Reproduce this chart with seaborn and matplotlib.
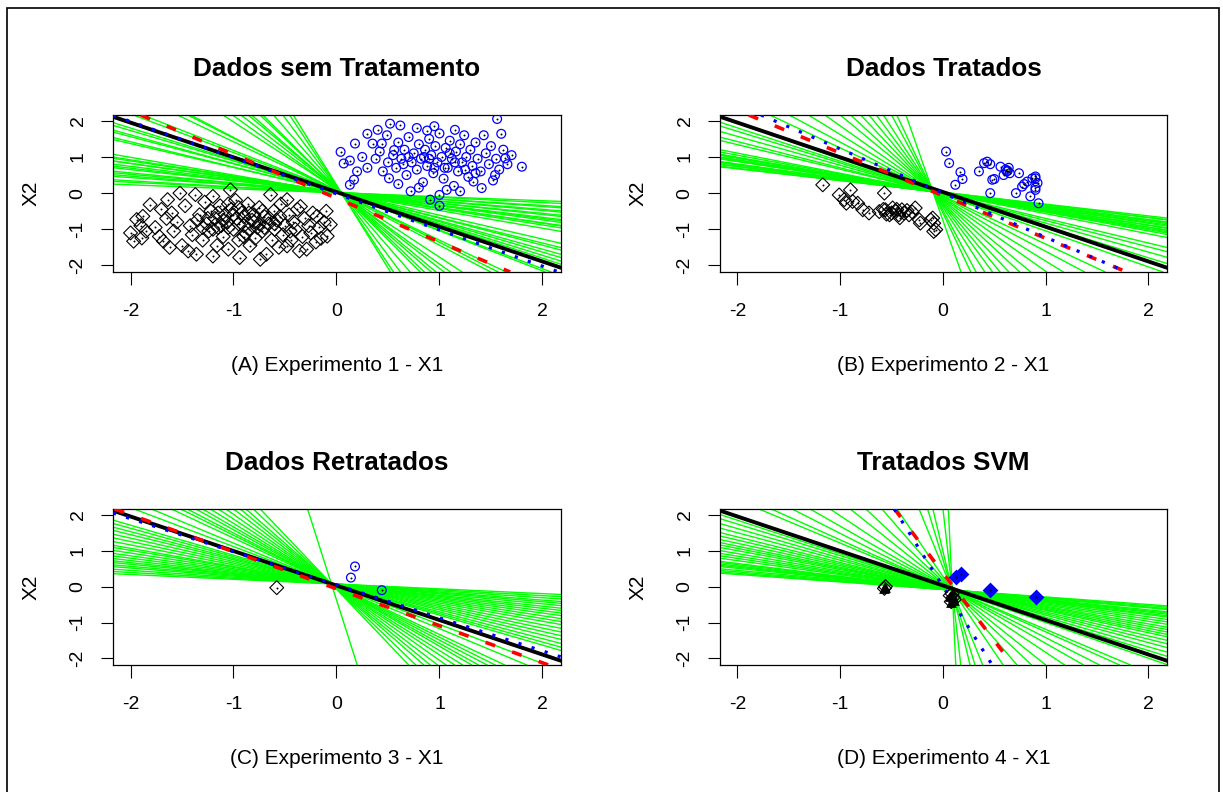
import pandas as pd
import seaborn as sns
import matplotlib.pyplot as plt
from matplotlib.patches import Rectangle

# ---------------------------------------------------------------------------
# Dados (coordenadas X1, X2)
# ---------------------------------------------------------------------------
titulos = ['Dados sem Tratamento', 'Dados Tratados', 'Dados Retratados', 'Tratados SVM']
rotulos_x = ['(A) Experimento 1 - X1', '(B) Experimento 2 - X1',
             '(C) Experimento 3 - X1', '(D) Experimento 4 - X1']
ticks = [-2, -1, 0, 1, 2]

# Experimento 1 - classe preta (losangos)
a_preto_x = [-2.0, -1.97, -1.94, -1.88, -1.89, -1.81, -1.76, -1.72, -1.68, -1.64, -1.6, -1.58, -1.55,
             -1.52, -1.5, -1.47, -1.44, -1.42, -1.4, -1.37, -1.36, -1.33, -1.3, -1.28, -1.26, -1.24,
             -1.22, -1.2, -1.2, -1.18, -1.16, -1.15, -1.13, -1.1, -1.08, -1.06, -1.05, -1.03, -1.02,
             -1.0, -0.98, -0.97, -0.95, -0.94, -0.92, -0.9, -0.88, -0.86, -0.84, -0.82, -0.8, -0.79,
             -0.77, -0.75, -0.74, -0.72, -0.7, -0.68, -0.66, -0.64, -0.63, -0.61, -0.6, -0.58, -0.56,
             -0.54, -0.52, -0.5, -0.48, -0.48, -0.46, -0.44, -0.42, -0.4, -0.38, -0.36, -0.35, -0.33,
             -0.31, -0.29, -0.27, -0.25, -0.23, -0.2, -0.19, -0.17, -0.15, -0.12, -0.09, -0.06, -0.1,
             -1.9, -1.85, -1.7, -1.65, -1.62, -1.35, -1.12, -0.9, -0.85, -1.25, -1.15, -1.05, -0.95,
             -0.85, -0.75, -0.65, -1.0, -1.1, -0.8, -0.7, -0.6, -1.2, -0.9, -1.3, -0.55, -0.95, -1.05,
             -0.72, -0.45]
a_preto_y = [-1.1, -1.33, -0.73, -0.64, -1.24, -0.32, -0.95, -1.2, -1.33, -0.18, -0.55, -1.05, -0.8,
             0.0, -1.45, -0.35, -1.6, -0.9, -1.15, -0.04, -1.69, -0.6, -1.3, -0.25, -0.85, -1.05,
             -0.5, -0.09, -1.74, -0.7, -1.45, -0.95, -0.35, -1.2, -0.6, -0.8, -1.55, 0.09, -0.45,
             -1.0, -0.2, -0.7, -1.3, -1.78, -0.55, -0.9, -1.1, -0.3, -1.45, -0.75, -0.6, -1.25,
             -0.95, -0.4, -1.83, -1.05, -0.65, -1.69, -0.85, -0.04, -1.3, -0.5, -1.0, -0.75, -1.5,
             -0.3, -1.15, -0.9, -1.46, -0.18, -0.6, -1.3, -0.8, -1.0, -0.45, -1.6, -0.37, -1.2,
             -0.7, -1.55, -0.9, -1.1, -0.55, -1.35, -0.64, -0.95, -1.25, -0.8, -1.19, -0.87, -0.5,
             -0.9, -1.05, -0.45, -0.7, -1.5, -0.75, -0.9, -0.65, -1.0, -0.7, -0.55, -0.95, -0.85,
             -0.55, -0.85, -0.7, -0.6, -0.75, -0.8, -0.95, -0.85, -1.0, -1.2, -0.95, -0.65, -0.4, -0.3,
             -0.5, -1.05]

# Experimento 1 - classe azul (circulos)
a_azul_x = [0.04, 0.07, 0.13, 0.18, 0.13, 0.17, 0.3, 0.35, 0.44, 0.52, 0.62, 0.49, 0.51, 0.72, 0.88,
            1.07, 1.43, 1.56, 1.6, 1.8, 1.64, 1.54, 1.41, 1.33, 0.91, 0.56, 0.25, 0.3, 0.38, 0.42,
            0.45, 0.5, 0.55, 0.58, 0.6, 0.63, 0.66, 0.68, 0.7, 0.73, 0.75, 0.78, 0.8, 0.82, 0.84,
            0.86, 0.88, 0.9, 0.92, 0.94, 0.96, 0.98, 1.0, 1.02, 1.04, 1.06, 1.08, 1.1, 1.12, 1.14,
            1.16, 1.18, 1.2, 1.22, 1.24, 1.26, 1.28, 1.3, 1.32, 1.35, 1.37, 1.4, 1.45, 1.48, 1.5,
            1.52, 1.55, 1.58, 1.62, 1.66, 1.7, 1.0, 0.8, 0.6, 1.2, 0.95, 1.15, 0.78, 0.4, 0.2, 1.05,
            0.9, 0.85, 1.1, 0.7, 1.25, 0.95, 1.15, 0.65, 1.35, 1.0]
a_azul_y = [1.14, 0.82, 0.9, 1.37, 0.23, 0.37, 1.64, 1.37, 1.37, 1.92, 1.87, 1.6, 0.41, 0.05, 1.73,
            0.09, 1.6, 2.05, 1.64, 0.73, 0.96, 0.5, 0.14, 0.32, -0.18, 1.19, 1.0, 0.7, 0.95, 1.15,
            0.6, 0.85, 1.05, 0.7, 1.4, 0.95, 1.2, 0.5, 1.55, 0.85, 1.1, 0.65, 1.35, 0.95, 0.3,
            1.2, 0.75, 1.5, 1.05, 0.55, 1.3, 0.85, 1.65, 1.0, 0.4, 1.25, 0.7, 1.45, 0.95, 0.2,
            1.15, 0.6, 1.35, 0.85, 1.6, 1.0, 0.45, 1.2, 0.75, 1.4, 0.95, 0.6, 1.1, 0.8, 1.3,
            0.35, 0.95, 0.65, 1.2, 0.8, 1.05, -0.05, 0.15, 0.25, 0.05, 1.85, 1.75, 1.8, 1.75, 0.6, 0.7,
            0.95, 1.0, 1.1, 1.0, 0.65, 0.7, 0.85, 0.8, 0.55, -0.35]

# Experimento 2
b_preto_x = [-1.17, -1.01, -0.9, -0.96, -0.94, -0.88, -0.83, -0.78, -0.72, -0.57, -0.62, -0.56, -0.49,
             -0.46, -0.43, -0.4, -0.33, -0.27, -0.23, -0.12, -0.07, -0.09, -0.52, -0.22, -0.09, -0.1,
             -0.5, -0.45, -0.38, -0.42, -0.35, -0.3, -0.55, -0.58]
b_preto_y = [0.23, -0.05, 0.09, -0.18, -0.28, -0.23, -0.28, -0.46, -0.55, 0.0, -0.51, -0.46, -0.41,
             -0.51, -0.6, -0.46, -0.6, -0.41, -0.74, -0.74, -1.01, -0.83, -0.6, -0.83, -1.06, -0.69,
             -0.55, -0.45, -0.55, -0.68, -0.48, -0.52, -0.58, -0.45]
b_azul_x = [0.03, 0.06, 0.17, 0.19, 0.12, 0.35, 0.4, 0.43, 0.46, 0.5, 0.56, 0.62, 0.64, 0.65, 0.59,
            0.74, 0.71, 0.77, 0.82, 0.87, 0.9, 0.92, 0.9, 0.85, 0.46, 0.93, 0.48, 0.9, 0.9, 0.61,
            0.63, 0.79]
b_azul_y = [1.15, 0.83, 0.58, 0.39, 0.23, 0.6, 0.83, 0.87, 0.8, 0.39, 0.73, 0.6, 0.7, 0.55, 0.5,
            0.55, 0.0, 0.18, 0.32, 0.41, 0.41, 0.28, 0.09, -0.09, 0.0, -0.28, 0.37, 0.46, 0.15, 0.65,
            0.62, 0.25]

# Experimento 3
c_preto_x = [-0.58]
c_preto_y = [-0.03]
c_azul_x = [0.18, 0.14, 0.44]
c_azul_y = [0.56, 0.25, -0.1]

# Experimento 4 (SVM)
d_preto_x = [-0.56, -0.57, 0.09, 0.1, 0.08, 0.11, 0.07]
d_preto_y = [0.0, -0.05, -0.2, -0.3, -0.42, -0.36, -0.25]
d_azul_x = [0.13, 0.18, 0.46, 0.91]
d_azul_y = [0.27, 0.36, -0.09, -0.3]

# Retas de separacao: X2 = intercepto + inclinacao * X1
verde_a_incl = [-0.11, -0.14, -0.17, -0.2, -0.23, -0.25, -0.28, -0.31, -0.34, -0.36, -0.39, -0.41,
                -0.43, -0.45, -0.49, -0.66, -0.7, -0.75, -0.79, -0.84, -0.88, -0.93, -1.07, -1.11,
                -1.36, -1.44, -1.49, -1.87, -2.05, -2.2, -2.38, -2.49, -2.72, -2.84, -3.27, -3.8,
                -4.3, -4.6]
verde_a_int = [0.01, 0.02, 0.0, 0.03, 0.01, 0.02, 0.0, 0.03, 0.01, 0.02, 0.04, 0.0, 0.03, 0.02, 0.01,
               0.05, 0.02, 0.06, 0.03, 0.05, 0.04, 0.06, 0.05, 0.07, 0.06, 0.08, 0.05, 0.1, 0.09,
               0.12, 0.12, 0.11, 0.14, 0.13, 0.16, 0.18, 0.2, 0.23]

verde_b_incl = [-0.325, -0.34, -0.354, -0.367, -0.379, -0.39, -0.403, -0.427, -0.44, -0.451, -0.465,
                -0.476, -0.49, -0.5, -0.524, -0.558, -0.68, -0.728, -0.8, -0.874, -0.922, -0.995,
                -1.33, -1.51, -1.75, -2.01, -2.34, -2.64, -3.01, -3.4, -3.84, -4.4, -5.28, -6.03, -8.1]
verde_b_int = [0.02, 0.01, 0.03, 0.0, 0.02, 0.01, 0.0, 0.02, 0.0, 0.01, -0.01, 0.01, 0.0, -0.01,
               0.0, -0.01, -0.02, -0.03, -0.03, -0.04, -0.04, -0.05, -0.08, -0.1, -0.13, -0.15,
               -0.18, -0.21, -0.25, -0.29, -0.33, -0.39, -0.48, -0.55, -0.76]

verde_c_incl = [-0.133, -0.161, -0.19, -0.223, -0.246, -0.275, -0.303, -0.332, -0.365, -0.398,
                -0.436, -0.474, -0.507, -0.555, -0.602, -0.649, -0.697, -0.744, -0.791, -0.834,
                -1.083, -1.19, -1.34, -1.42, -1.49, -1.58, -1.66, -1.77, -1.89, -2.03, -2.19,
                -2.35, -2.51, -2.75, -3.01, -9.0]
verde_c_int = [0.07, 0.07, 0.07, 0.07, 0.07, 0.07, 0.06, 0.06, 0.06, 0.06, 0.06, 0.06, 0.05, 0.05,
               0.05, 0.05, 0.05, 0.04, 0.04, 0.04, 0.03, 0.02, 0.01, 0.01, 0.0, 0.0, -0.0, -0.01,
               -0.01, -0.02, -0.03, -0.04, -0.05, -0.06, -0.07, -0.37]

verde_d_incl = [-0.209, -0.225, -0.244, -0.26, -0.289, -0.305, -0.32, -0.34, -0.356, -0.391, -0.422,
                -0.453, -0.489, -0.524, -0.556, -0.587, -0.622, -0.667, -0.711, -0.764, -0.822,
                -0.88, -0.933, -0.991, -1.2, -1.28, -1.45, -1.63, -1.9, -2.28, -2.69, -3.3, -4.2,
                -7.0, -9.4, -12.0, -25.0, -60.0]
verde_d_int = [-0.08, -0.08, -0.08, -0.07, -0.07, -0.07, -0.07, -0.07, -0.07, -0.06, -0.06, -0.06,
               -0.06, -0.05, -0.05, -0.05, -0.04, -0.04, -0.04, -0.03, -0.03, -0.02, -0.02, -0.01,
               0.01, 0.02, 0.03, 0.05, 0.07, 0.1, 0.14, 0.2, 0.28, 0.53, 0.75, 0.98, 2.15, 5.3]

# reta verdadeira (preta), regressao (vermelha tracejada), perceptron (azul pontilhada)
preta_int, preta_incl = 0.03, -0.96
vermelha_int = [-0.14, -0.07, -0.06, 0.38]
vermelha_incl = [-1.21, -1.18, -1.03, -3.77]
azul_int = [-0.02, 0.0, 0.05, 0.0]
azul_incl = [-1.0, -1.22, -0.92, -4.55]

# ---------------------------------------------------------------------------
sns.set_style('ticks')
plt.rcParams['font.family'] = ['Liberation Sans', 'DejaVu Sans']
plt.rcParams['axes.unicode_minus'] = False
plt.rcParams['text.color'] = 'black'
plt.rcParams['axes.labelcolor'] = 'black'
plt.rcParams['xtick.color'] = 'black'
plt.rcParams['ytick.color'] = 'black'

fig = plt.figure(figsize=(12.23, 7.92), dpi=100)
posicoes = [[0.0924, 0.6566, 0.3663, 0.1982],
            [0.5887, 0.6566, 0.3655, 0.1982],
            [0.0924, 0.1604, 0.3663, 0.1970],
            [0.5887, 0.1604, 0.3655, 0.1970]]

pretos = [(a_preto_x, a_preto_y), (b_preto_x, b_preto_y), (c_preto_x, c_preto_y), (d_preto_x, d_preto_y)]
azuis = [(a_azul_x, a_azul_y), (b_azul_x, b_azul_y), (c_azul_x, c_azul_y), (d_azul_x, d_azul_y)]
verdes = [(verde_a_int, verde_a_incl), (verde_b_int, verde_b_incl),
          (verde_c_int, verde_c_incl), (verde_d_int, verde_d_incl)]

for i in range(4):
    ax = fig.add_axes(posicoes[i])
    preto = pd.DataFrame({'X1': pretos[i][0], 'X2': pretos[i][1]})
    azul = pd.DataFrame({'X1': azuis[i][0], 'X2': azuis[i][1]})

    # retas verdes (bootstrap)
    for a, b in zip(*verdes[i]):
        ax.axline((0, a), slope=b, color='#00ff00', lw=1.0, zorder=2)
    ax.axline((0, preta_int), slope=preta_incl, color='black', lw=2.8, zorder=3)
    ax.axline((0, vermelha_int[i]), slope=vermelha_incl[i], color='red', lw=2.6,
              dashes=(2.8, 5.0), zorder=4)
    ax.axline((0, azul_int[i]), slope=azul_incl[i], color='blue', lw=2.3,
              dashes=(1.0, 3.3), zorder=5)

    if i < 3:
        sns.scatterplot(data=preto, x='X1', y='X2', ax=ax, marker='D', s=50, color='black',
                        linewidth=0.8, zorder=6)
        ax.collections[-1].set_facecolor('none')
        ax.collections[-1].set_edgecolor('black')
        sns.scatterplot(data=azul, x='X1', y='X2', ax=ax, marker='o', s=40, color='blue',
                        linewidth=0.9, zorder=6)
        ax.collections[-1].set_facecolor('none')
        ax.collections[-1].set_edgecolor('blue')
    else:
        sns.scatterplot(data=preto, x='X1', y='X2', ax=ax, marker='D', s=50, color='black',
                        linewidth=0.8, zorder=6)
        ax.collections[-1].set_facecolor('none')
        ax.collections[-1].set_edgecolor('black')
        sns.scatterplot(data=preto, x='X1', y='X2', ax=ax, marker='^', s=60, color='black',
                        linewidth=0, zorder=7)
        sns.scatterplot(data=azul, x='X1', y='X2', ax=ax, marker='D', s=65, color='blue',
                        linewidth=0, zorder=7)
    # pontinho no centro de cada marcador
    centros = pd.concat([preto, azul])
    sns.scatterplot(data=centros, x='X1', y='X2', ax=ax, marker='o', s=2, color='black',
                    linewidth=0, zorder=8)

    ax.set_xlim(-2.17, 2.18)
    ax.set_ylim(-2.18, 2.16)
    ax.set_xticks(ticks)
    ax.set_yticks(ticks)
    for sp in ax.spines.values():
        sp.set_visible(True)
        sp.set_linewidth(0.9)
        sp.set_color('black')
    ax.tick_params(axis='both', direction='out', length=9, width=0.8, labelsize=14,
                   pad=13, color='black', labelcolor='black')
    ax.tick_params(axis='y', labelrotation=90, pad=10)
    for lab in ax.get_yticklabels():
        lab.set_verticalalignment('center')
    ax.set_title(titulos[i], fontsize=18.8, fontweight='bold', pad=28)
    ax.set_xlabel(rotulos_x[i], fontsize=15, labelpad=26)
    ax.set_ylabel('X2', fontsize=15, labelpad=21)

# moldura externa
fig.add_artist(Rectangle((0.0057, -0.05), 0.991, 1.0393, transform=fig.transFigure,
                         fill=False, ec='black', lw=1.2))

fig.savefig('out.png', dpi=100)
